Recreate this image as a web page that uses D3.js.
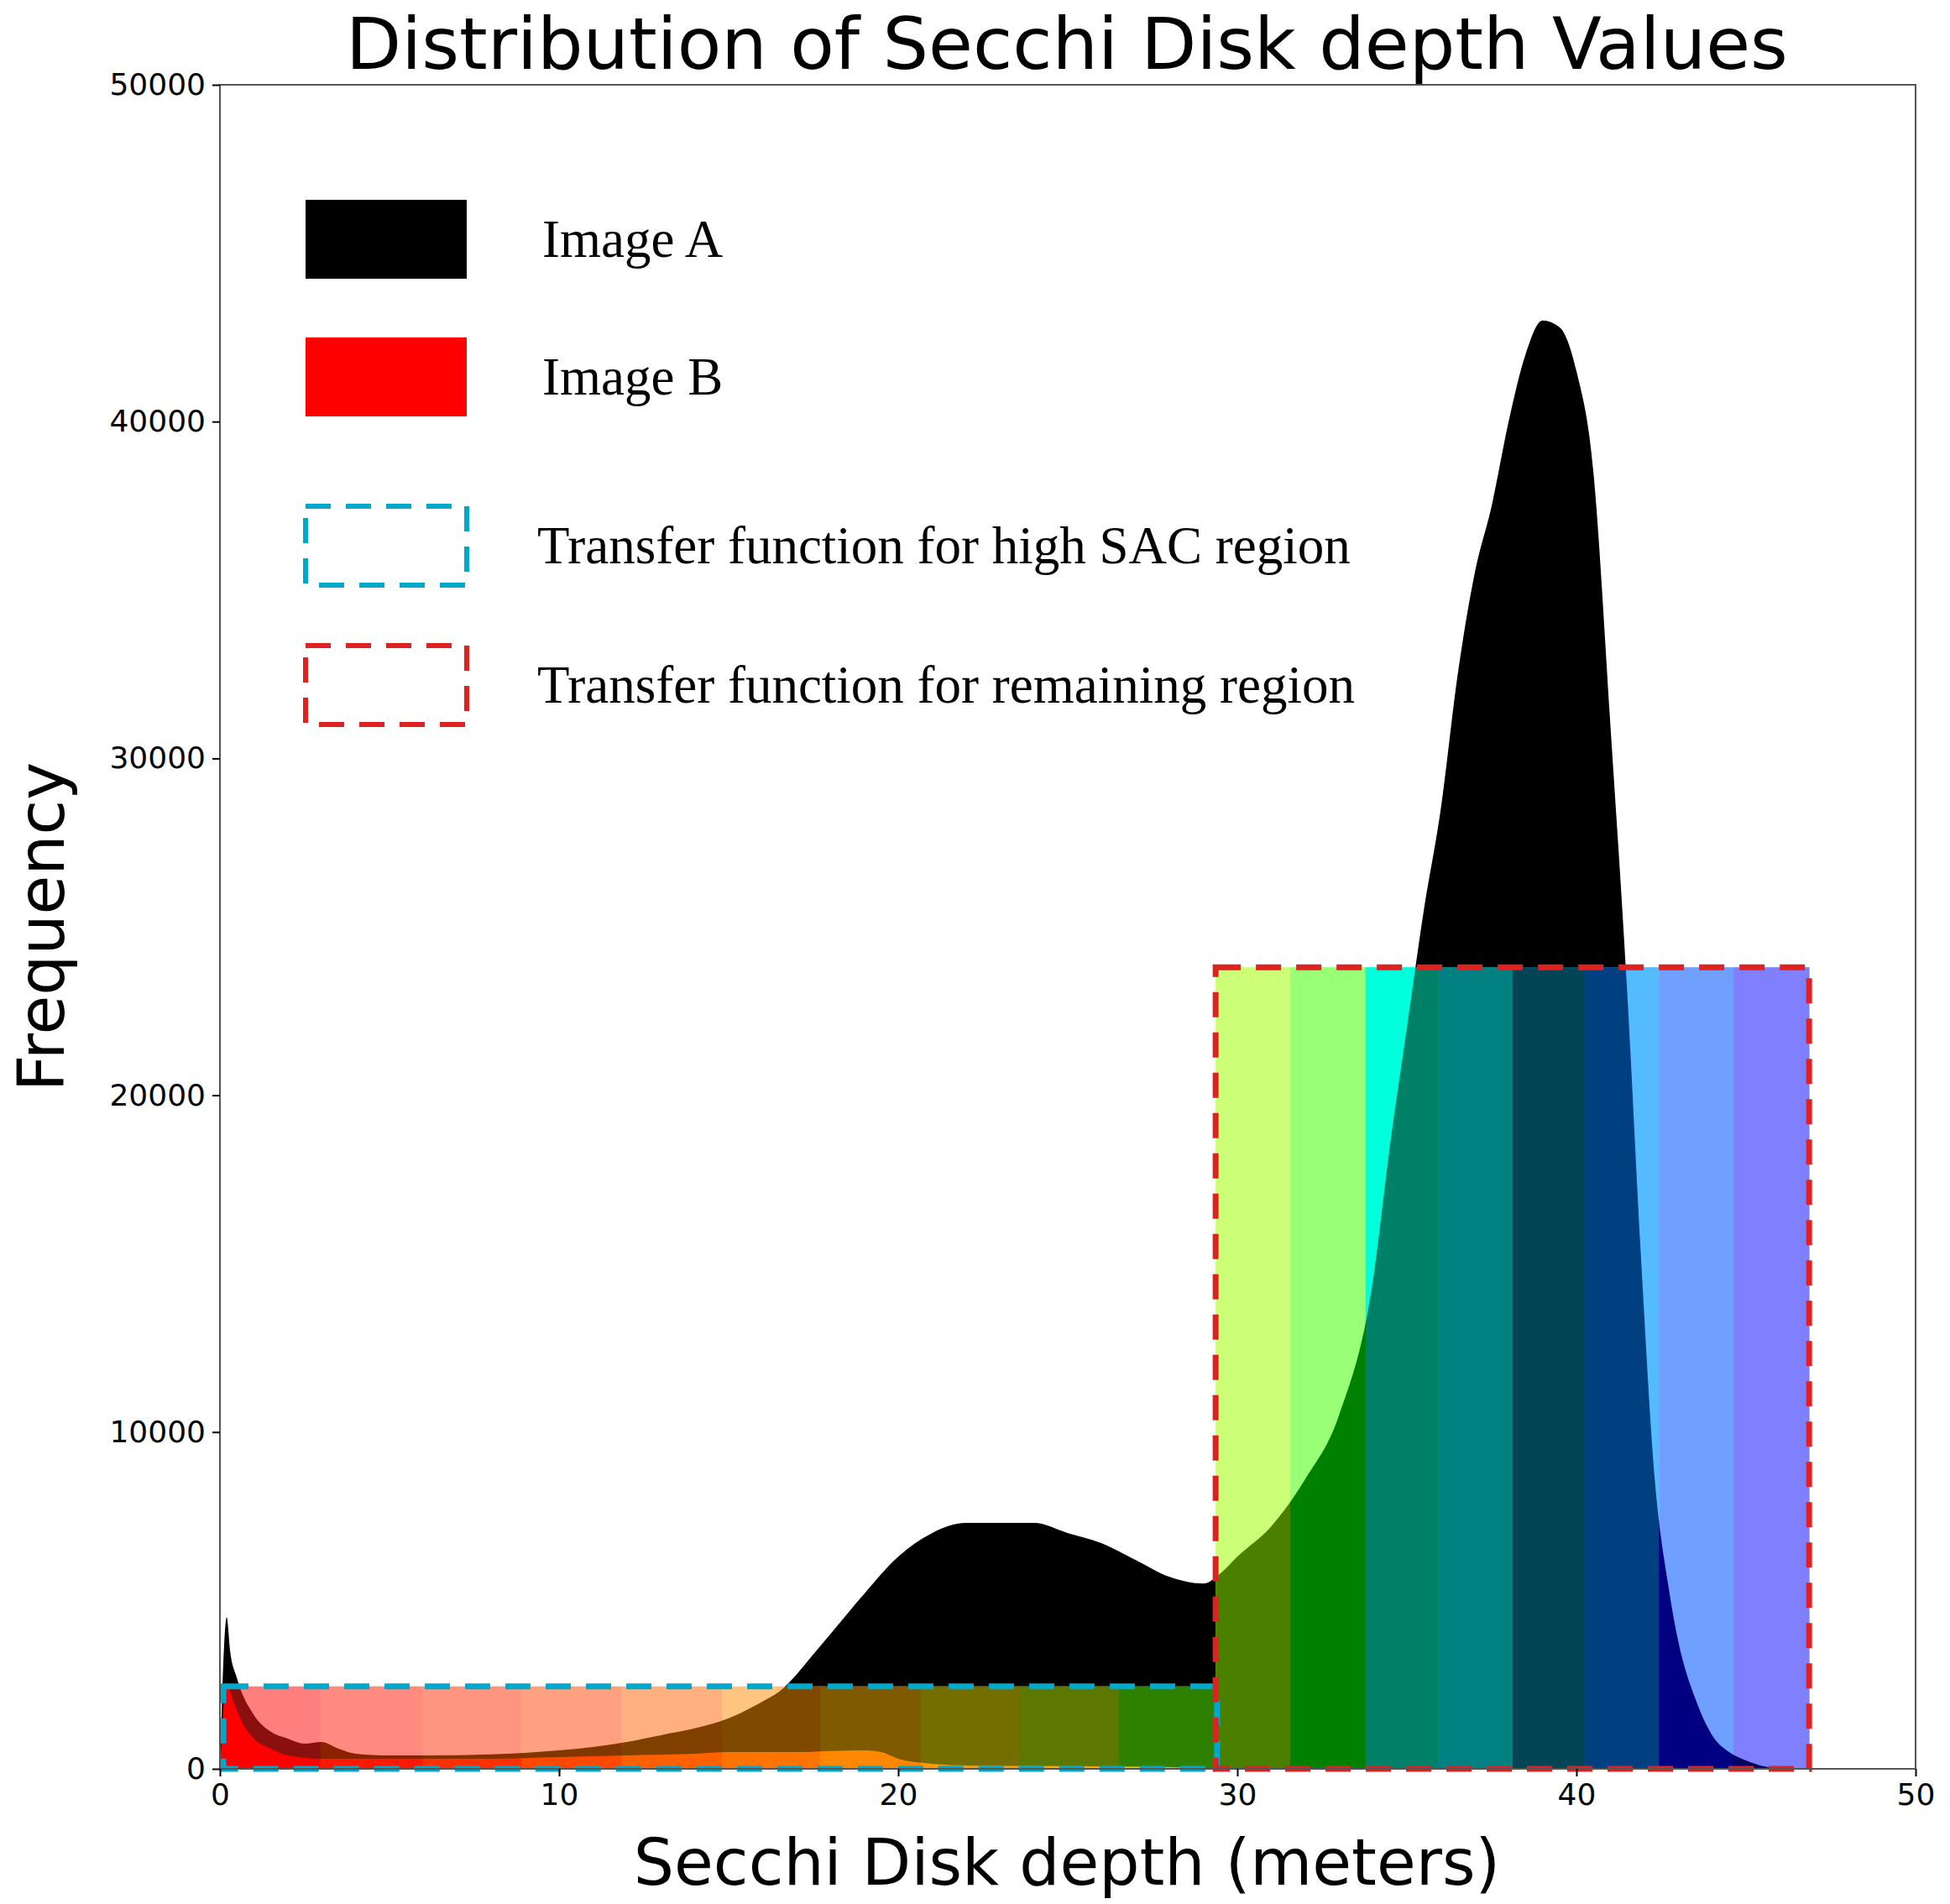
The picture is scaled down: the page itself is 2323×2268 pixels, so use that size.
<!DOCTYPE html>
<html>
<head>
<meta charset="utf-8">
<script src="https://cdn.jsdelivr.net/npm/d3@7"></script>
<style>
	body { margin: 0; background: #fff; }
</style>
</head>
<body>
<div id="chart"></div>
<script>
// histogram of Image A (depth, frequency)
const depthA = [0, 0.2, 0.3, 0.5, 1, 1.5, 2, 2.5, 3, 3.5, 4, 5, 6, 8, 10, 11, 12, 13, 14, 15, 16, 16.5, 17, 17.5, 18, 19, 20, 21, 22, 23, 24, 25, 26, 27, 28, 29, 29.5, 30, 31, 32, 33, 34, 34.5, 35, 35.5, 36, 36.5, 37, 37.5, 38, 38.5, 39, 39.5, 40, 40.5, 41, 41.5, 41.9, 42.3, 42.7, 43, 43.5, 44, 44.5, 45, 45.5, 46];
const freqA = [0, 4500, 3500, 2700, 1600, 1100, 900, 750, 800, 600, 450, 400, 400, 430, 550, 650, 800, 1000, 1200, 1500, 2000, 2300, 2800, 3400, 4000, 5200, 6300, 7000, 7300, 7300, 7300, 7000, 6700, 6200, 5700, 5500, 5800, 6300, 7200, 8600, 10500, 14500, 18500, 22000, 25500, 28500, 32500, 35500, 37500, 40000, 42000, 43000, 42800, 41500, 38500, 31000, 23000, 15250, 8700, 5500, 3800, 2100, 1000, 500, 250, 80, 0];

// histogram of Image B
const depthB = [0, 0.2, 0.4, 0.7, 1, 1.5, 2, 3, 5, 8, 10, 12, 14, 15, 17, 19, 19.5, 20, 21, 22, 25, 28, 29.5];
const freqB = [0, 2500, 2000, 1300, 900, 600, 400, 300, 300, 300, 350, 400, 450, 500, 500, 550, 500, 300, 150, 100, 80, 50, 0];

// transfer function, high SAC region (low depth)
const lowEdges = [0.1, 2.96, 5.98, 8.88, 11.83, 14.8, 17.7, 20.66, 23.58, 26.5, 29.4];
const lowTop = 2450;
const lowLight = ["#ff7f7f", "#ff8a80", "#ff9580", "#ffa080", "#ffb080", "#ffc580", "#d8a860", "#c8b860", "#a8c860", "#80c860"];
const lowDark = ["#8a1010", "#8a2200", "#863000", "#803800", "#7f4000", "#7f4a00", "#7f5a00", "#746e00", "#5c7800", "#2e8000"];
const lowB = ["#ff0000", "#ff1800", "#ff3000", "#ff4800", "#ff6000", "#ff7400", "#ff8800", "#ff9a00", "#ffaa00", "#ffbb00"];

// transfer function, remaining region
const highEdges = [29.36, 31.56, 33.78, 35.92, 38.12, 40.25, 42.43, 44.63, 46.86];
const highTop = 23800;
const highLight = ["#ccff77", "#99ff77", "#00ffdd", "#00dddd", "#00aabb", "#55bbff", "#70a0ff", "#8080ff"];
const highDark = ["#4a7f00", "#008000", "#008066", "#008080", "#004455", "#003f80", "#000080", "#000060"];

const xTicks = [0, 10, 20, 30, 40, 50];
const yTicks = [0, 10000, 20000, 30000, 40000, 50000];

const legendItems = ["Image A", "Image B", "Transfer function for high SAC region", "Transfer function for remaining region"];

const W = 2323, H = 2268;
const margin = { left: 262, right: 41, top: 101, bottom: 161 };
const width = W - margin.left - margin.right;
const height = H - margin.top - margin.bottom;

const svg = d3.select("#chart").append("svg").attr("width", W).attr("height", H);
const g = svg.append("g").attr("transform", `translate(${margin.left},${margin.top})`);

const x = d3.scaleLinear().domain([0, 50]).range([0, width]);
const y = d3.scaleLinear().domain([0, 50000]).range([height, 0]);

const dataA = depthA.map((d, i) => [d, freqA[i]]);
const dataB = depthB.map((d, i) => [d, freqB[i]]);
const area = d3.area().x(d => x(d[0])).y0(y(0)).y1(d => y(d[1])).curve(d3.curveMonotoneX);

const defs = svg.append("defs");
defs.append("clipPath").attr("id", "clipA").append("path").attr("d", area(dataA));
defs.append("clipPath").attr("id", "clipB").append("path").attr("d", area(dataB));

g.append("path").attr("d", area(dataA)).attr("fill", "#000");
g.append("path").attr("d", area(dataB)).attr("fill", "#ff0000");

//bands: light above curve, dark under Image A, bright under Image B
function drawBands(edges, top, light, dark, bright) {
	const bands = d3.range(edges.length - 1).map(i => ({ x0: edges[i], x1: edges[i + 1], i }));
	const layer = (fill, clip) => {
		const s = g.append("g");
		if (clip) s.attr("clip-path", `url(#${clip})`);
		s.selectAll("rect").data(bands).enter().append("rect")
			.attr("x", d => x(d.x0))
			.attr("width", d => x(d.x1) - x(d.x0) + 0.5)
			.attr("y", y(top))
			.attr("height", y(0) - y(top))
			.attr("fill", d => fill[d.i]);
	};
	layer(light, null);
	layer(dark, "clipA");
	if (bright) layer(bright, "clipB");
}
drawBands(lowEdges, lowTop, lowLight, lowDark, lowB);
drawBands(highEdges, highTop, highLight, highDark, null);

// dashed boxes
const dashBox = (x0, x1, top, color) =>
	g.append("rect")
		.attr("x", x(x0)).attr("y", y(top))
		.attr("width", x(x1) - x(x0)).attr("height", y(0) - y(top))
		.attr("fill", "none").attr("stroke", color)
		.attr("stroke-width", 7).attr("stroke-dasharray", "30,18");
dashBox(lowEdges[0], lowEdges[lowEdges.length - 1], lowTop, "#00a8cc");
dashBox(highEdges[0], highEdges[highEdges.length - 1], highTop, "#dd2222");

// frame
g.append("rect").attr("width", width).attr("height", height)
	.attr("fill", "none").attr("stroke", "#555").attr("stroke-width", 2);

const xAxis = g.append("g").attr("transform", `translate(0,${height})`)
	.call(d3.axisBottom(x).tickValues(xTicks).tickSize(9).tickPadding(8).tickFormat(d3.format("d")));
const yAxis = g.append("g")
	.call(d3.axisLeft(y).tickValues(yTicks).tickSize(9).tickPadding(8).tickFormat(d3.format("d")));
[xAxis, yAxis].forEach(a => {
	a.select(".domain").remove();
	a.selectAll("text").attr("font-family", "DejaVu Sans").attr("font-size", 36).attr("fill", "#000");
	a.selectAll("line").attr("stroke", "#000").attr("stroke-width", 2);
});

svg.append("text").attr("x", 1271).attr("y", 82).attr("text-anchor", "middle")
	.attr("font-family", "DejaVu Sans").attr("font-size", 86).text("Distribution of Secchi Disk depth Values");
svg.append("text").attr("x", 1271).attr("y", 2245).attr("text-anchor", "middle")
	.attr("font-family", "DejaVu Sans").attr("font-size", 76).text("Secchi Disk depth (meters)");
svg.append("text").attr("transform", `translate(76,${margin.top + height / 2}) rotate(-90)`)
	.attr("text-anchor", "middle").attr("font-family", "DejaVu Sans").attr("font-size", 76).text("Frequency");

// legend
const legend = svg.append("g");
const swatches = [
	{ y: 238, fill: "#000", stroke: "none" },
	{ y: 402, fill: "#ff0000", stroke: "none" },
	{ y: 603, fill: "none", stroke: "#00a8cc" },
	{ y: 769, fill: "none", stroke: "#dd2222" }
];
swatches.forEach((s, i) => {
	legend.append("rect")
		.attr("x", 364).attr("y", s.y).attr("width", 192).attr("height", 94)
		.attr("fill", s.fill).attr("stroke", s.stroke)
		.attr("stroke-width", 6).attr("stroke-dasharray", s.stroke === "none" ? null : "30,18");
	legend.append("text")
		.attr("x", i < 2 ? 646 : 640).attr("y", s.y + 68)
		.attr("font-family", "Liberation Serif").attr("font-size", 63)
		.text(legendItems[i]);
});
</script>
</body>
</html>
